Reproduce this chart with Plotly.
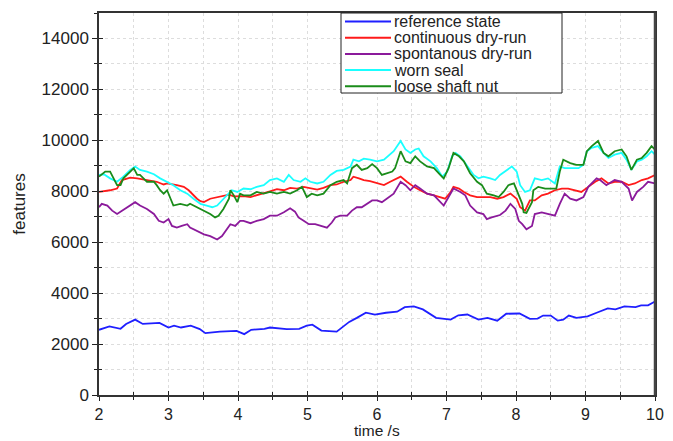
import plotly.graph_objects as go

# ---- data ----
t_ref = [2.0, 2.15, 2.31, 2.39, 2.52, 2.63, 2.87, 3.00, 3.08, 3.18, 3.32, 3.45, 3.53, 3.74, 3.98, 4.09,
         4.19, 4.38, 4.46, 4.70, 4.88, 4.99, 5.07, 5.20, 5.42, 5.60, 5.71, 5.84, 5.97, 6.13, 6.29, 6.40,
         6.53, 6.66, 6.85, 7.06, 7.17, 7.30, 7.46, 7.59, 7.73, 7.86, 8.05, 8.20, 8.31, 8.39, 8.50, 8.60,
         8.68, 8.76, 8.87, 9.03, 9.16, 9.32, 9.43, 9.56, 9.72, 9.80, 9.90, 10.0]
v_ref = [2560, 2690, 2600, 2790, 2960, 2790, 2830, 2650, 2720, 2650, 2720, 2590, 2430, 2490, 2520, 2390,
         2560, 2600, 2650, 2590, 2600, 2720, 2760, 2530, 2490, 2870, 3030, 3230, 3160, 3230, 3270, 3450,
         3480, 3360, 3030, 2960, 3130, 3160, 2960, 3030, 2920, 3190, 3200, 2990, 3000, 3120, 3120, 2920,
         2960, 3120, 3030, 3090, 3230, 3400, 3360, 3480, 3450, 3520, 3520, 3670]

t_cont = [2.0, 2.07, 2.16, 2.26, 2.33, 2.45, 2.55, 2.69, 2.83, 2.93, 2.98, 3.12, 3.22, 3.29, 3.36, 3.41,
          3.46, 3.51, 3.60, 3.70, 3.79, 3.87, 3.94, 3.99, 4.08, 4.18, 4.27, 4.37, 4.46, 4.56, 4.66, 4.75,
          4.85, 4.945, 5.04, 5.14, 5.23, 5.33, 5.42, 5.52, 5.62, 5.66, 5.74, 5.81, 5.90, 6.0, 6.10, 6.19,
          6.29, 6.34, 6.43, 6.53, 6.62, 6.72, 6.82, 6.91, 6.98, 7.06, 7.10, 7.18, 7.25, 7.34, 7.44, 7.53,
          7.63, 7.73, 7.82, 7.92, 8.01, 8.06, 8.13, 8.20, 8.27, 8.37, 8.46, 8.56, 8.66, 8.75, 8.85, 8.94,
          9.04, 9.14, 9.23, 9.33, 9.42, 9.52, 9.62, 9.71, 9.81, 9.90, 10.0]
v_cont = [7973, 8000, 8040, 8107, 8440, 8533, 8507, 8440, 8373, 8267, 8307, 8240, 8173, 8040, 7840, 7707,
          7613, 7573, 7707, 7773, 7840, 7867, 7800, 7800, 7813, 7773, 7840, 7907, 8000, 8080, 8040, 8133,
          8107, 8173, 8107, 8067, 8133, 8240, 8267, 8373, 8440, 8573, 8507, 8440, 8400, 8307, 8240, 8373,
          8507, 8573, 8373, 8173, 8040, 7907, 7840, 7773, 7707, 7973, 8173, 8107, 7973, 7840, 7773, 7773,
          7773, 7707, 7773, 7907, 7707, 7373, 7240, 7640, 7640, 7840, 7907, 8040, 8107, 8107, 8040, 7973,
          8173, 8373, 8507, 8307, 8373, 8373, 8240, 8307, 8440, 8507, 8640]

t_spon = [2.0, 2.04, 2.12, 2.19, 2.26, 2.33, 2.45, 2.52, 2.59, 2.69, 2.79, 2.86, 2.93, 3.00, 3.05, 3.12,
          3.19, 3.27, 3.31, 3.41, 3.51, 3.60, 3.70, 3.77, 3.84, 3.89, 3.96, 4.03, 4.08, 4.18, 4.27, 4.37,
          4.46, 4.56, 4.66, 4.75, 4.82, 4.87, 4.945, 5.02, 5.11, 5.21, 5.28, 5.35, 5.40, 5.47, 5.57, 5.64,
          5.71, 5.78, 5.86, 5.93, 6.0, 6.07, 6.14, 6.24, 6.34, 6.41, 6.48, 6.55, 6.62, 6.72, 6.82, 6.89,
          6.96, 7.03, 7.10, 7.20, 7.27, 7.34, 7.44, 7.53, 7.58, 7.65, 7.77, 7.85, 7.92, 7.99, 8.04, 8.09,
          8.15, 8.23, 8.27, 8.37, 8.46, 8.56, 8.63, 8.70, 8.78, 8.87, 8.97, 9.04, 9.16, 9.21, 9.30, 9.42,
          9.52, 9.62, 9.67, 9.74, 9.83, 9.90, 10.0]
v_spon = [7373, 7507, 7440, 7240, 7107, 7240, 7440, 7573, 7440, 7307, 7107, 6840, 6773, 6907, 6640, 6573,
          6640, 6707, 6573, 6440, 6307, 6240, 6107, 6240, 6507, 6707, 6640, 6840, 6840, 6747, 6840, 6907,
          7040, 7040, 7173, 7333, 7200, 6973, 6840, 6707, 6707, 6613, 6573, 6773, 6973, 7040, 7040, 7240,
          7373, 7373, 7507, 7640, 7640, 7573, 7707, 7907, 8373, 8240, 8040, 8240, 8107, 7907, 7840, 7640,
          7440, 7773, 8107, 7973, 7840, 7440, 7173, 7107, 6907, 6973, 7067, 7240, 7507, 7307, 6840, 6707,
          6507, 6640, 7107, 7173, 7107, 7040, 7507, 7907, 7707, 7640, 7773, 8173, 8507, 8440, 8240, 8440,
          8373, 8107, 7640, 7973, 8173, 8373, 8307]

t_worn = [2.0, 2.07, 2.16, 2.26, 2.35, 2.45, 2.52, 2.59, 2.69, 2.79, 2.88, 2.98, 3.07, 3.17, 3.27, 3.36,
          3.46, 3.55, 3.63, 3.70, 3.79, 3.87, 3.91, 3.99, 4.08, 4.18, 4.27, 4.37, 4.46, 4.56, 4.66, 4.73,
          4.80, 4.90, 4.97, 5.04, 5.14, 5.23, 5.33, 5.42, 5.52, 5.62, 5.66, 5.74, 5.81, 5.90, 6.0, 6.10,
          6.19, 6.24, 6.34, 6.41, 6.48, 6.55, 6.60, 6.67, 6.77, 6.86, 6.94, 7.01, 7.08, 7.13, 7.20, 7.30,
          7.39, 7.46, 7.53, 7.63, 7.70, 7.77, 7.87, 7.94, 8.01, 8.06, 8.13, 8.20, 8.27, 8.37, 8.46, 8.56,
          8.63, 8.70, 8.80, 8.90, 8.97, 9.02, 9.09, 9.18, 9.26, 9.33, 9.42, 9.52, 9.59, 9.66, 9.74, 9.81,
          9.88, 9.95, 10.0]
v_worn = [8640, 8667, 8507, 8373, 8573, 8840, 8973, 8840, 8773, 8667, 8507, 8373, 8240, 8040, 7907, 7707,
          7507, 7440, 7373, 7440, 7707, 7907, 8040, 7973, 8107, 8080, 8173, 8240, 8440, 8507, 8373, 8640,
          8440, 8373, 8507, 8373, 8307, 8373, 8640, 8800, 8840, 8973, 9240, 9173, 9280, 9240, 9173, 9240,
          9440, 9573, 9973, 9640, 9507, 9640, 9680, 9373, 9173, 8907, 8573, 8773, 9373, 9507, 9373, 8973,
          8640, 8507, 8573, 8507, 8440, 8640, 8840, 8973, 8773, 8240, 7973, 8040, 8507, 8440, 8507, 8307,
          8973, 8907, 8907, 8907, 9040, 9573, 9707, 9773, 9507, 9307, 9440, 9507, 9240, 8840, 9173, 9240,
          9373, 9573, 9440]

t_loose = [2.0, 2.09, 2.16, 2.26, 2.31, 2.35, 2.45, 2.50, 2.55, 2.59, 2.69, 2.79, 2.83, 2.88, 2.93, 2.98,
           3.03, 3.07, 3.17, 3.27, 3.31, 3.41, 3.51, 3.60, 3.67, 3.72, 3.79, 3.87, 3.89, 3.94, 3.99, 4.03,
           4.08, 4.18, 4.27, 4.37, 4.46, 4.56, 4.66, 4.75, 4.85, 4.92, 4.99, 5.06, 5.14, 5.23, 5.33, 5.42,
           5.52, 5.57, 5.64, 5.71, 5.78, 5.86, 5.93, 6.0, 6.07, 6.14, 6.22, 6.26, 6.34, 6.41, 6.48, 6.55,
           6.62, 6.72, 6.82, 6.91, 6.96, 7.03, 7.10, 7.18, 7.25, 7.34, 7.44, 7.51, 7.58, 7.68, 7.75, 7.82,
           7.89, 7.97, 8.01, 8.09, 8.11, 8.15, 8.23, 8.25, 8.32, 8.42, 8.51, 8.58, 8.63, 8.68, 8.78, 8.87,
           8.97, 9.02, 9.09, 9.18, 9.26, 9.33, 9.42, 9.52, 9.59, 9.66, 9.74, 9.81, 9.88, 9.95, 10.0]
v_loose = [8573, 8773, 8773, 8240, 8240, 8507, 8773, 8907, 8640, 8640, 8373, 8373, 8240, 8040, 7907, 8040,
           7707, 7440, 7507, 7440, 7507, 7373, 7240, 7107, 6973, 7040, 7307, 7707, 8040, 7840, 7573, 7907,
           7840, 7840, 7973, 7907, 7973, 7907, 7973, 7907, 8040, 8173, 7773, 7907, 7840, 7907, 8240, 8373,
           8440, 8307, 8907, 9040, 8840, 8907, 9067, 8907, 8640, 8707, 8773, 8907, 9573, 9173, 9107, 9373,
           9173, 8973, 8907, 8640, 8507, 8907, 9507, 9373, 9173, 8707, 8373, 8240, 7907, 7840, 7773, 7973,
           8240, 8307, 8040, 7507, 7173, 7147, 7573, 8040, 8173, 8107, 8107, 8107, 8773, 9240, 9107, 9040,
           9040, 9573, 9773, 9973, 9507, 9373, 9573, 9640, 9373, 8840, 9240, 9307, 9507, 9773, 9640]

names = ["reference state", "continuous dry-run", "spontanous dry-run", "worn seal", "loose shaft nut"]
colors = ["#1f1fff", "#ff1a1a", "#8b1a9b", "#1affff", "#1a8c1a"]
series = [(t_ref, v_ref), (t_cont, v_cont), (t_spon, v_spon), (t_worn, v_worn), (t_loose, v_loose)]

x_ticks = [2, 3, 4, 5, 6, 7, 8, 9, 10]
y_ticks = [0, 2000, 4000, 6000, 8000, 10000, 12000, 14000]
x_title = "time /s"
y_title = "features"

FONT = "Liberation Sans, Arial, sans-serif"
W, H = 673, 441
ML, MR, MT, MB = 99, 18, 13, 46
PW, PH = W - ML - MR, H - MT - MB


def px2paper_x(px):
    return (px - ML) / PW


def py2paper_y(py):
    return (H - MB - py) / PH


fig = go.Figure()
for (tx, vy), name, col in zip(series, names, colors):
    fig.add_trace(go.Scatter(x=tx, y=vy, mode="lines", name=name, showlegend=False,
                             line=dict(color=col, width=1.8)))

# empty trace to hold the overlay axes (inside half of crossing ticks)
fig.add_trace(go.Scatter(x=[], y=[], xaxis="x2", yaxis="y2", showlegend=False, hoverinfo="skip"))

grid = "#dddddd"
common_x = dict(range=[2, 10], tickvals=x_ticks, ticktext=[str(v) for v in x_ticks])
common_y = dict(range=[0, 15000], tickvals=y_ticks, ticktext=[str(v) for v in y_ticks])

# ---- hand-drawn legend box (matches reference compact layout) ----
shapes = []
annotations = []
lx0, lx1 = px2paper_x(341), px2paper_x(562)
ly0, ly1 = py2paper_y(93), py2paper_y(13)
shapes.append(dict(type="rect", xref="paper", yref="paper", x0=lx0, x1=lx1, y0=ly0, y1=ly1,
                   line=dict(color="#222", width=1), fillcolor="white", layer="above"))
for i, (name, col) in enumerate(zip(names, colors)):
    row_py = 21.5 + 16.2 * i
    yy = py2paper_y(row_py)
    shapes.append(dict(type="line", xref="paper", yref="paper",
                       x0=px2paper_x(345), x1=px2paper_x(391), y0=yy, y1=yy,
                       line=dict(color=col, width=2), layer="above"))
    annotations.append(dict(text=name, xref="paper", yref="paper", x=px2paper_x(392), y=yy,
                            xanchor="left", yanchor="middle", showarrow=False,
                            font=dict(family=FONT, size=16, color="#222")))

# x-axis title placed at the bottom edge
annotations.append(dict(text=x_title, xref="paper", yref="paper", x=0.5, y=py2paper_y(441),
                        xanchor="center", yanchor="bottom", showarrow=False,
                        font=dict(family=FONT, size=15.5, color="#222")))

# thicker right frame edge as in the reference
shapes.append(dict(type="line", xref="paper", yref="paper", x0=1, x1=1, y0=0, y1=1,
                   line=dict(color="#444", width=2.5), layer="above"))

fig.update_layout(
    width=W, height=H,
    margin=dict(l=ML, r=MR, t=MT, b=MB),
    paper_bgcolor="white", plot_bgcolor="white",
    font=dict(family=FONT, size=17, color="#222"),
    xaxis=dict(**common_x, ticks="outside", ticklen=4, tickwidth=1, tickcolor="#222",
               showline=True, linecolor="#333", linewidth=1.5, mirror=True,
               showgrid=True, gridcolor=grid, griddash="dot", gridwidth=1,
               minor=dict(dtick=0.5, ticks="outside", ticklen=3, tickcolor="#222",
                          showgrid=True, gridcolor=grid, griddash="dot"),
               zeroline=False, automargin=False,
               tickfont=dict(size=16)),
    yaxis=dict(**common_y, ticks="outside", ticklen=5, tickwidth=1, tickcolor="#222",
               showline=True, linecolor="#333", linewidth=1.5, mirror=True,
               showgrid=True, gridcolor=grid, griddash="dot", gridwidth=1,
               minor=dict(dtick=1000, ticks="outside", ticklen=3, tickcolor="#222",
                          showgrid=True, gridcolor=grid, griddash="dot"),
               zeroline=False, automargin=False,
               title=dict(text=y_title, font=dict(size=17), standoff=12),
               tickfont=dict(size=17)),
    xaxis2=dict(**common_x, overlaying="x", anchor="y2", ticks="inside", ticklen=4,
                tickcolor="#222", showticklabels=False, showgrid=False, zeroline=False,
                showline=False, minor=dict(dtick=0.5, ticks="inside", ticklen=3, tickcolor="#222")),
    yaxis2=dict(**common_y, overlaying="y", anchor="x2", ticks="inside", ticklen=4,
                tickcolor="#222", showticklabels=False, showgrid=False, zeroline=False,
                showline=False, minor=dict(dtick=1000, ticks="inside", ticklen=3, tickcolor="#222")),
    shapes=shapes,
    annotations=annotations,
    showlegend=False,
)

fig.write_html("out.html")
